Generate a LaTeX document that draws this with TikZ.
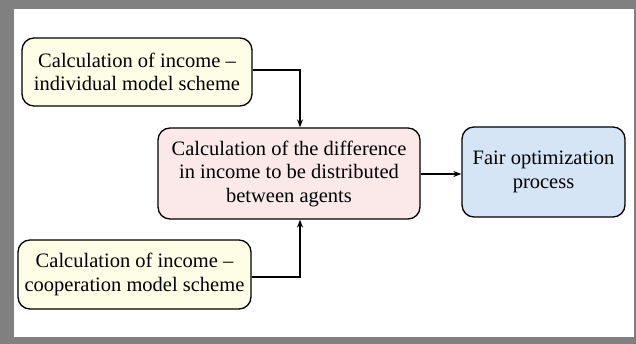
\documentclass[tikz,border=0pt]{standalone}
\usepackage{fontspec}
\setmainfont{Liberation Serif}
\usetikzlibrary{arrows.meta,calc}
\definecolor{frameg}{HTML}{808080}
\definecolor{yel}{HTML}{FEFDE6}
\definecolor{pnk}{HTML}{FBE9EA}
\definecolor{blu}{HTML}{D5E5F5}
\begin{document}
\begin{tikzpicture}[x=1pt,y=-1pt,
  box/.style={draw=black,line width=1.3pt,rounded corners=12pt,align=center,
    font=\fontsize{20.5}{23.5}\selectfont,inner sep=0pt},
  conn/.style={line width=1.5pt,-{Stealth[length=8pt,width=6pt]}}]
\useasboundingbox (0,0) rectangle (636,344);
\fill[frameg] (0,0) rectangle (636,344);
\fill[white] (14,9) rectangle (634,337);
\node[box,fill=yel,minimum width=230pt,minimum height=68pt] (tl) at (137,72)
  {Calculation of income --\\individual model scheme};
\node[box,fill=yel,minimum width=233pt,minimum height=69pt] (bl) at (134.5,274.5)
  {Calculation of income --\\cooperation model scheme};
\node[box,fill=pnk,minimum width=262pt,minimum height=91pt] (mid) at (289,173.5)
  {Calculation of the difference\\in income to be distributed\\between agents};
\node[box,fill=blu,minimum width=163pt,minimum height=90pt] (fo) at (543.5,172)
  {Fair optimization\\process};
\draw[conn] ([yshift=2pt]tl.east) -| ([xshift=11pt]mid.north);
\draw[conn] ([yshift=-2.5pt]bl.east) -| ([xshift=11pt]mid.south);
\draw[conn] ([yshift=-0.5pt]mid.east) -- ([yshift=-0.5pt]mid.east -| fo.west);
\end{tikzpicture}
\end{document}
